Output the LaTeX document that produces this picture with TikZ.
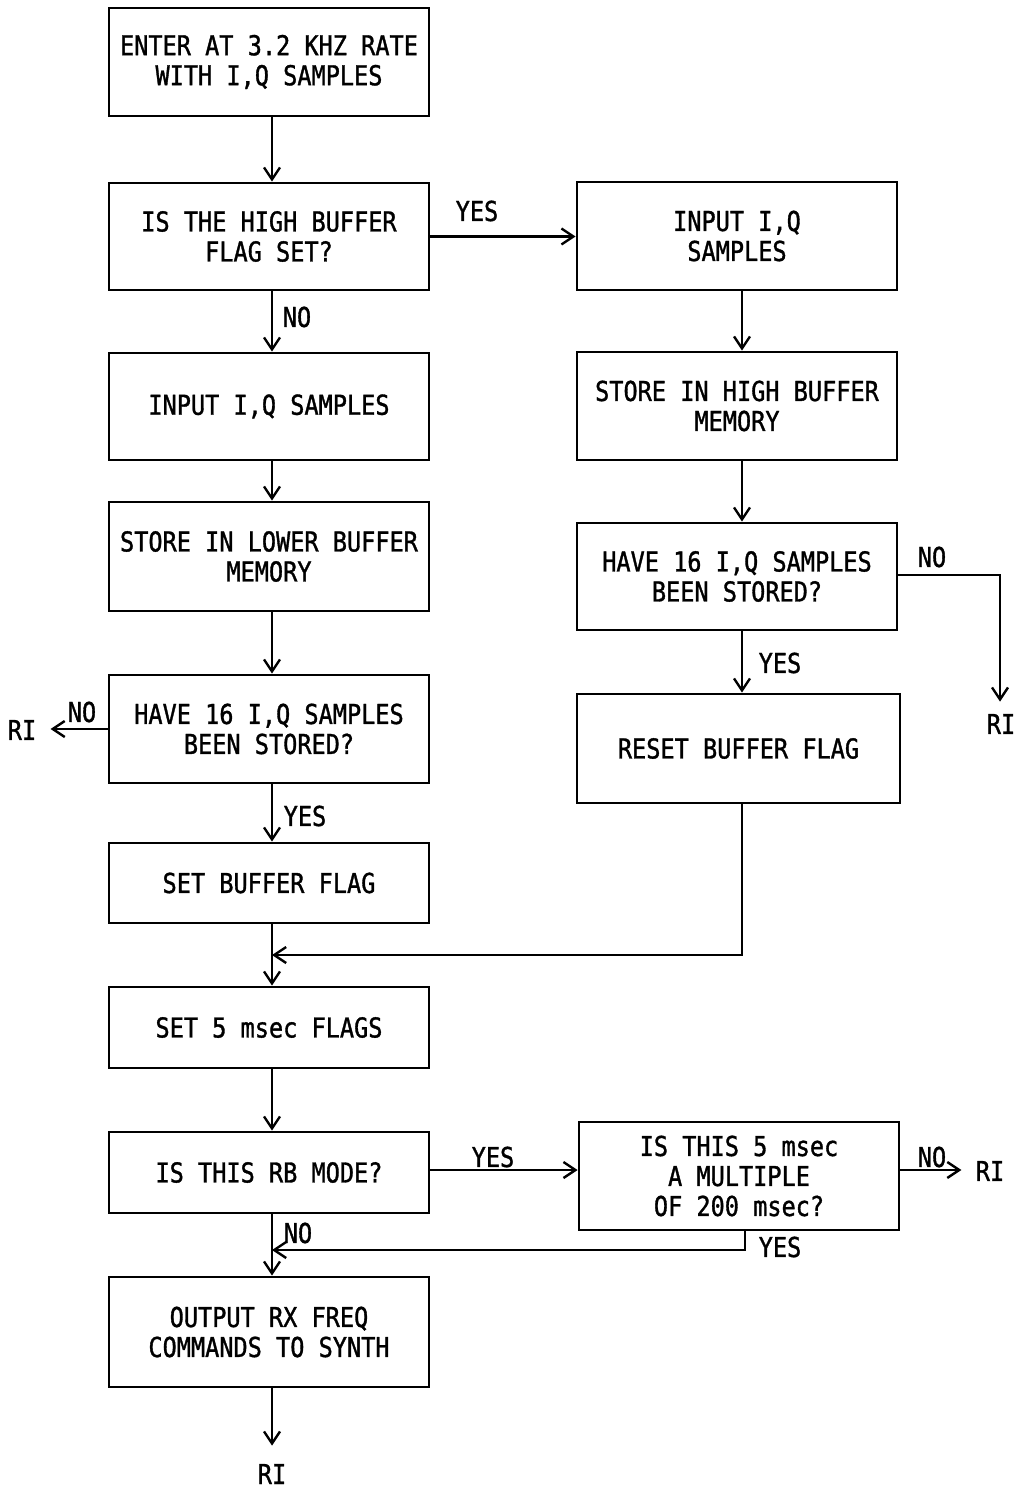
\documentclass[tikz,border=0pt]{standalone}
\usepackage{fontspec}
\setmainfont{DejaVu Sans Mono}[FakeStretch=0.86,FakeBold=1.2]
\usetikzlibrary{arrows.meta}
\begin{document}
\begin{tikzpicture}[x=0.5pt,y=-0.5pt,
  box/.style={draw,line width=1.4pt,minimum width=160pt,inner sep=0pt,align=center,font=\fontsize{13.7}{15}\selectfont},
  lbl/.style={font=\fontsize{13.7}{15}\selectfont,inner sep=0pt},
  conn/.style={line width=1.4pt},
  arr/.style={conn,-{Straight Barb[length=6pt,width=8pt,line width=1.2pt]}}]
\useasboundingbox (0,0) rectangle (1019,1491);
% left column
\node[box,minimum height=54pt] (b1) at (269,62) {ENTER AT 3.2 KHZ RATE\\WITH I,Q SAMPLES};
\node[box,minimum height=53.5pt] (b2) at (269,236.5) {IS THE HIGH BUFFER\\FLAG SET?};
\node[box,minimum height=53.5pt] (b3) at (269,406.5) {INPUT I,Q SAMPLES};
\node[box,minimum height=54.5pt] (b4) at (269,556.5) {STORE IN LOWER BUFFER\\MEMORY};
\node[box,minimum height=54pt] (b5) at (269,729) {HAVE 16 I,Q SAMPLES\\BEEN STORED?};
\node[box,minimum height=40pt] (b6) at (269,883) {SET BUFFER FLAG};
\node[box,minimum height=40.5pt] (b7) at (269,1027.5) {SET 5 msec FLAGS};
\node[box,minimum height=40.5pt] (b8) at (269,1172.5) {IS THIS RB MODE?};
\node[box,minimum height=55pt] (b9) at (269,1332) {OUTPUT RX FREQ\\COMMANDS TO SYNTH};
% right column
\node[box,minimum height=54pt] (r1) at (737,236) {INPUT I,Q\\SAMPLES};
\node[box,minimum height=54pt] (r2) at (737,406) {STORE IN HIGH BUFFER\\MEMORY};
\node[box,minimum height=53.5pt] (r3) at (737,576.5) {HAVE 16 I,Q SAMPLES\\BEEN STORED?};
\node[box,minimum height=54.5pt,minimum width=161.5pt] (r4) at (738.5,748.5) {RESET BUFFER FLAG};
\node[box,minimum height=54pt] (r5) at (739,1176) {IS THIS 5 msec\\A MULTIPLE\\OF 200 msec?};
% terminals
\node[lbl] (ri1) at (22,730) {RI};
\node[lbl] (ri2) at (1001,724) {RI};
\node[lbl] (ri3) at (990,1171) {RI};
\node[lbl] (ri4) at (272,1474) {RI};
\coordinate (j1) at (272,955);
\coordinate (j2) at (272,1250);
\coordinate (c3) at (1000,575);
\coordinate (c5) at (745,1250);
% connectors
\draw[arr] (b1.south -| j1) -- (b2.north -| j1);
\draw[arr] (b2.south -| j1) -- (b3.north -| j1);
\draw[arr] (b3.south -| j1) -- (b4.north -| j1);
\draw[arr] (b4.south -| j1) -- (b5.north -| j1);
\draw[arr] (b5.south -| j1) -- (b6.north -| j1);
\draw[arr] (b6.south -| j1) -- (b7.north -| j1);
\draw[arr] (b7.south -| j1) -- (b8.north -| j1);
\draw[arr] (b8.south -| j1) -- (b9.north -| j1);
\draw[arr] (b9.south -| j1) -- ([yshift=9pt]ri4.north);
\draw[arr] (b2.east) -- (r1.west |- b2.east);
\draw[arr] (r1.south -| 742,0) -- (r2.north -| 742,0);
\draw[arr] (r2.south -| 742,0) -- (r3.north -| 742,0);
\draw[arr] (r3.south -| 742,0) -- (r4.north -| 742,0);
\draw[arr] (b5.west) -- ([xshift=7pt]ri1.east |- b5.west);
\draw[arr] (r3.east |- c3) -- (c3) -- ([yshift=6pt]ri2.north -| c3);
\draw[arr] (r4.south -| 742,0) -- (742,955) -- (j1);
\draw[arr] (b8.east |- 0,1170) -- (r5.west |- 0,1170);
\draw[arr] (r5.east |- 0,1170) -- ([xshift=-7pt]ri3.west |- 0,1170);
\draw[arr] (r5.south -| c5) -- (c5) -- (j2);
% labels
\node[lbl] at (477,211) {YES};
\node[lbl] at (297,317) {NO};
\node[lbl] at (82,712) {NO};
\node[lbl] at (932,557) {NO};
\node[lbl] at (780,663) {YES};
\node[lbl] at (305,816) {YES};
\node[lbl] at (493,1157) {YES};
\node[lbl] at (932,1157) {NO};
\node[lbl] at (780,1247) {YES};
\node[lbl] at (298,1233) {NO};
\end{tikzpicture}
\end{document}
